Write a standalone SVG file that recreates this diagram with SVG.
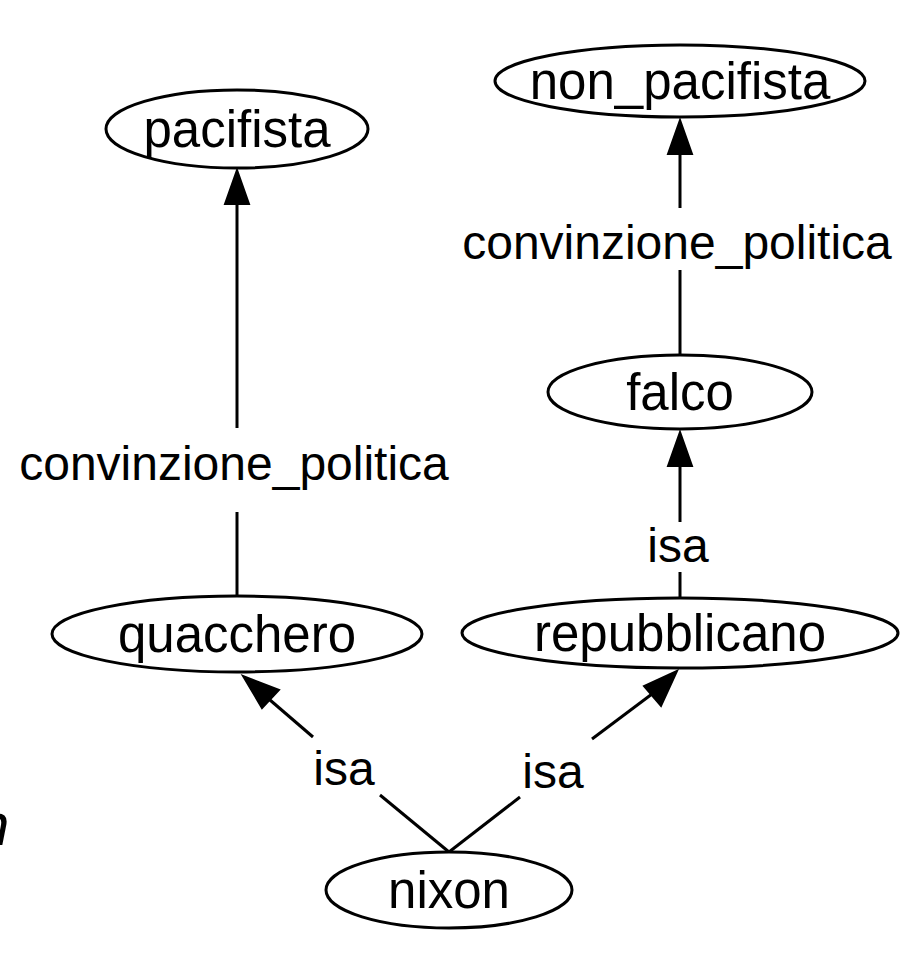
<svg xmlns="http://www.w3.org/2000/svg" width="910" height="958" viewBox="0 0 910 958">
<style>
text{font-family:"Liberation Sans",Arial,sans-serif;font-size:48px;fill:#000;text-anchor:middle}
.node ellipse{fill:#fff;stroke:#000;stroke-width:3}
.node text{font-size:51px}
.edge line{stroke:#000;stroke-width:3}
.edge polygon{fill:#000;stroke:#000;stroke-width:2}
</style>
<rect width="910" height="958" fill="#fff"/>
<text x="-24" y="845" style="font-style:italic;font-size:60px;text-anchor:start">n</text>
<g id="connectors" class="edge">
  <line x1="237" y1="596" x2="237" y2="512"/>
  <line x1="237" y1="428" x2="237" y2="200"/>
  <polygon points="237,170 225,204 249,204"/>
  <text x="234" y="480">convinzione_politica</text>
  <line x1="680" y1="355" x2="680" y2="270"/>
  <line x1="680" y1="208" x2="680" y2="150"/>
  <polygon points="680,120 668,154 692,154"/>
  <text x="677" y="259">convinzione_politica</text>
  <line x1="680" y1="598" x2="680" y2="572"/>
  <line x1="680" y1="522" x2="680" y2="462"/>
  <polygon points="680,432 668,466 692,466"/>
  <text x="678" y="562">isa</text>
  <line x1="449" y1="852" x2="380" y2="795"/>
  <line x1="313" y1="737" x2="270" y2="700"/>
  <polygon points="243,676 262,708 279,690"/>
  <text x="344" y="785">isa</text>
  <line x1="449" y1="852" x2="520" y2="797"/>
  <line x1="592" y1="739" x2="652" y2="694"/>
  <polygon points="677,671 644,686 661,706"/>
  <text x="553" y="788">isa</text>
</g>
<g id="pacifista" class="node"><ellipse cx="237" cy="129" rx="131" ry="39"/><text x="237" y="147">pacifista</text></g>
<g id="non_pacifista" class="node"><ellipse cx="680" cy="81" rx="185" ry="36"/><text x="680" y="99">non_pacifista</text></g>
<g id="falco" class="node"><ellipse cx="680" cy="392" rx="132" ry="37"/><text x="680" y="410">falco</text></g>
<g id="quacchero" class="node"><ellipse cx="237" cy="634" rx="185" ry="38"/><text x="237" y="652">quacchero</text></g>
<g id="repubblicano" class="node"><ellipse cx="680" cy="633" rx="218" ry="35"/><text x="680" y="651">repubblicano</text></g>
<g id="nixon" class="node"><ellipse cx="449" cy="890" rx="123" ry="38"/><text x="449" y="908">nixon</text></g>
</svg>
